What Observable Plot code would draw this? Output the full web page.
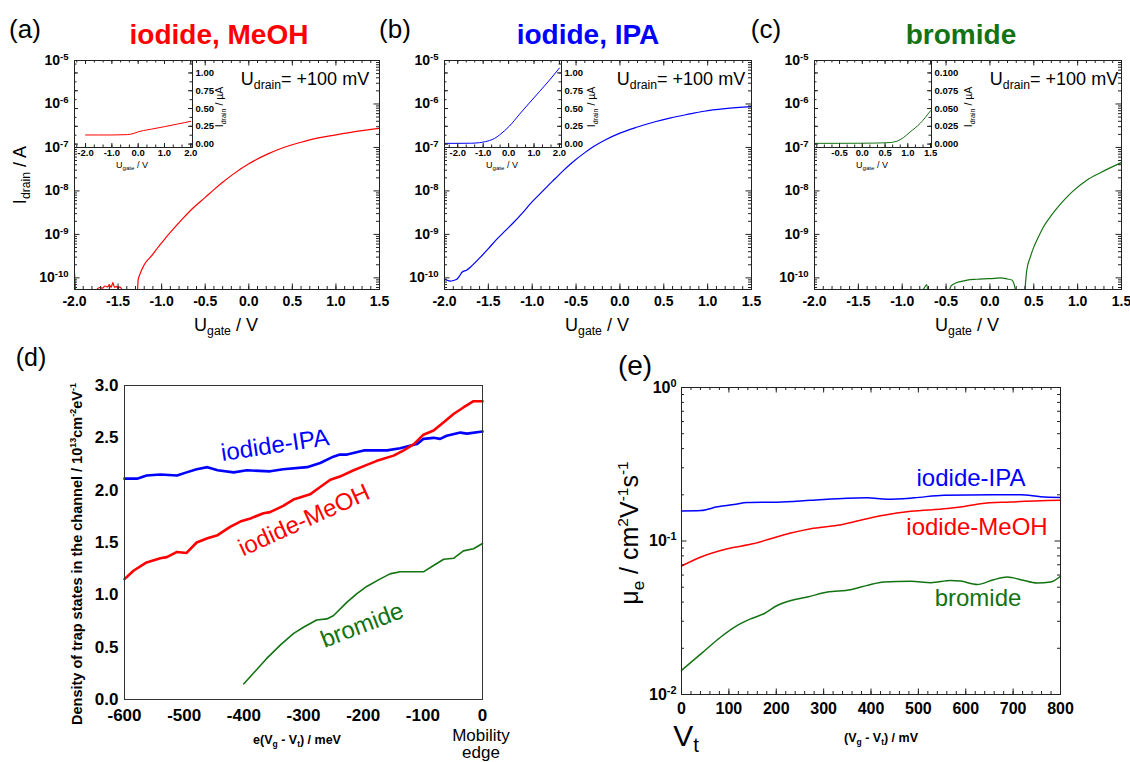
<!DOCTYPE html>
<html><head><meta charset="utf-8">
<script src="https://cdn.jsdelivr.net/npm/d3@7"></script>
<script src="https://cdn.jsdelivr.net/npm/@observablehq/plot@0.6"></script>
<style>
html,body{margin:0;padding:0;background:#fff;}
#root{position:relative;width:1130px;height:762px;overflow:hidden;background:#fff;font-family:"Liberation Sans",Arial,Helvetica,sans-serif;}
.lbl{position:absolute;white-space:nowrap;line-height:1;}
.sub{font-size:0.68em;vertical-align:-0.32em;}
.sup{font-size:0.62em;vertical-align:0.62em;}
</style></head>
<body><div id="root"></div>
<script>
// ---------------- DATA ----------------
const RED = "#ff0000", BLUE = "#0000ff", GREEN = "#137313";

// (a)-(c) main panels: [U_gate (V), I_drain (A)]; null = gap in the trace
const transferMeOH = [[-2.0,1.3e-10],[-1.985,4e-11],[-1.9,null],[-1.76,4e-11],[-1.74,5.5e-11],[-1.71,6e-11],[-1.68,5.8e-11],[-1.65,6.5e-11],[-1.62,6.2e-11],[-1.6,7e-11],[-1.58,6e-11],[-1.56,7.8e-11],[-1.54,6e-11],[-1.52,6.4e-11],[-1.5,5.8e-11],[-1.48,6.2e-11],[-1.46,5.5e-11],[-1.45,4e-11],[-1.4,null],[-1.29,4e-11],[-1.275,6e-11],[-1.27,9e-11],[-1.25,1.2e-10],[-1.2,2e-10],[-1.1,3.5e-10],[-1.05,4.8e-10],[-0.95,8.5e-10],[-0.86,1.38e-9],[-0.75,2.4e-9],[-0.63,4.2e-9],[-0.5,7.1e-9],[-0.4,1.07e-8],[-0.3,1.58e-8],[-0.17,2.5e-8],[0.0,4.2e-8],[0.22,7.1e-8],[0.4,1.0e-7],[0.6,1.32e-7],[0.8,1.66e-7],[0.97,1.9e-7],[1.2,2.28e-7],[1.5,2.75e-7]];
const transferIPA = [[-2.0,9.5e-11],[-1.97,8.8e-11],[-1.93,8.4e-11],[-1.9,8.7e-11],[-1.86,9.3e-11],[-1.83,1.1e-10],[-1.8,1.35e-10],[-1.75,1.5e-10],[-1.7,1.8e-10],[-1.59,3.0e-10],[-1.5,4.7e-10],[-1.4,7.9e-10],[-1.3,1.25e-9],[-1.21,1.9e-9],[-1.1,3.3e-9],[-1.02,5.1e-9],[-0.92,8.2e-9],[-0.83,1.26e-8],[-0.74,1.9e-8],[-0.64,3.0e-8],[-0.55,4.4e-8],[-0.4,7.6e-8],[-0.3,1.05e-7],[-0.18,1.45e-7],[0.0,2.14e-7],[0.2,2.95e-7],[0.4,3.9e-7],[0.58,4.8e-7],[0.8,5.9e-7],[0.96,6.8e-7],[1.2,7.8e-7],[1.5,8.7e-7]];
const transferBromide = [[-0.79,4e-11],[-0.75,5.8e-11],[-0.72,7e-11],[-0.705,4e-11],[-0.6,null],[-0.48,4e-11],[-0.44,6.6e-11],[-0.4,7.4e-11],[-0.37,7.9e-11],[-0.3,8.5e-11],[-0.26,8.9e-11],[-0.15,9.3e-11],[-0.07,9.5e-11],[0.05,9.7e-11],[0.12,1.0e-10],[0.2,9.4e-11],[0.25,8.9e-11],[0.28,6.6e-11],[0.3,4e-11],[0.35,null],[0.395,4e-11],[0.42,1.5e-10],[0.46,3e-10],[0.5,5.1e-10],[0.55,8.5e-10],[0.61,1.48e-9],[0.68,2.4e-9],[0.76,3.9e-9],[0.85,6.3e-9],[0.95,1.0e-8],[1.1,1.74e-8],[1.26,2.63e-8],[1.5,4.5e-8]];

// insets: [U_gate (V), I_drain (µA)]
const insetMeOH = [[-2.0,0.128],[-1.0,0.128],[-0.5,0.132],[-0.3,0.138],[-0.15,0.152],[0.0,0.172],[0.2,0.19],[0.5,0.21],[1.0,0.245],[1.5,0.282],[2.0,0.32]];
const insetIPA = [[-2.52,0.01],[-1.5,0.012],[-1.14,0.02],[-0.9,0.035],[-0.75,0.05],[-0.55,0.08],[-0.35,0.13],[-0.15,0.19],[0.04,0.255],[0.43,0.42],[0.82,0.58],[1.22,0.74],[1.61,0.9],[2.0,1.07]];
const insetBromide = [[-1.05,0.001],[0.0,0.0012],[0.5,0.0018],[0.61,0.0022],[0.76,0.004],[0.9,0.009],[1.05,0.017],[1.27,0.029],[1.5,0.047]];

// (d) density of trap states: [e(Vg-Vt) meV, 1e13 cm^-2 eV^-1]
const dosIPA = [[-600,2.11],[-579,2.11],[-563,2.14],[-540,2.15],[-512,2.14],[-496,2.17],[-479,2.2],[-461,2.22],[-444,2.19],[-417,2.17],[-395,2.19],[-356,2.18],[-334,2.2],[-294,2.22],[-272,2.26],[-250,2.32],[-239,2.34],[-227,2.34],[-199,2.38],[-160,2.38],[-138,2.4],[-110,2.44],[-99,2.49],[-82,2.5],[-71,2.49],[-60,2.52],[-37,2.55],[-26,2.54],[0,2.56]];
const dosMeOH = [[-600,1.15],[-585,1.23],[-563,1.31],[-540,1.35],[-529,1.36],[-512,1.41],[-496,1.4],[-479,1.5],[-461,1.54],[-444,1.57],[-423,1.65],[-406,1.7],[-389,1.73],[-367,1.78],[-356,1.79],[-334,1.85],[-317,1.91],[-306,1.93],[-289,1.96],[-272,2.03],[-255,2.1],[-239,2.13],[-216,2.19],[-199,2.23],[-177,2.28],[-149,2.33],[-132,2.38],[-115,2.44],[-99,2.53],[-82,2.57],[-65,2.65],[-48,2.73],[-32,2.79],[-15,2.85],[0,2.85]];
const dosBromide = [[-400,0.15],[-384,0.25],[-362,0.39],[-339,0.52],[-317,0.63],[-300,0.69],[-278,0.76],[-261,0.77],[-250,0.8],[-227,0.93],[-211,1.01],[-194,1.08],[-172,1.15],[-155,1.2],[-138,1.22],[-105,1.22],[-99,1.22],[-82,1.28],[-65,1.34],[-48,1.35],[-32,1.42],[-15,1.44],[0,1.49]];

// (e) mobility: [(Vg-Vt) mV, µe cm2/Vs]
const mobIPA = [[0,0.157],[41,0.158],[76,0.167],[111,0.173],[139,0.178],[202,0.179],[273,0.184],[350,0.19],[392,0.191],[434,0.187],[491,0.191],[554,0.199],[659,0.2],[716,0.2],[758,0.194],[800,0.192]];
const mobMeOH = [[0,0.0687],[41,0.0787],[97,0.0891],[153,0.0962],[188,0.1035],[231,0.1127],[273,0.1202],[329,0.1265],[378,0.1365],[427,0.1469],[484,0.156],[561,0.1626],[589,0.1667],[631,0.175],[694,0.1795],[800,0.184]];
const mobBromide = [[0,0.01436],[41,0.0184],[83,0.0237],[118,0.0282],[146,0.0311],[174,0.0336],[202,0.038],[231,0.041],[266,0.0432],[308,0.0465],[357,0.0482],[392,0.0514],[427,0.0541],[484,0.0546],[527,0.0535],[568,0.0553],[589,0.0548],[624,0.0521],[659,0.056],[688,0.0582],[716,0.056],[751,0.0532],[779,0.054],[800,0.0589]];

// tick labels
const gateTicks = [-2.0,-1.5,-1.0,-0.5,0.0,0.5,1.0,1.5];
const currentTicks = [1e-10,1e-9,1e-8,1e-7,1e-6,1e-5];
const insetGateTicksIodide = [-2,-1,0,1,2];
const insetGateTicksBromide = [-0.5,0,0.5,1,1.5];
const insetCurrentTicksIodide = [0,0.25,0.5,0.75,1.0];
const insetCurrentTicksBromide = [0,0.025,0.05,0.075,0.1];
const energyTicks = [-600,-500,-400,-300,-200,-100,0];
const dosTicks = [0,0.5,1.0,1.5,2.0,2.5,3.0];
const voltTicks = [0,100,200,300,400,500,600,700,800];
const mobTicks = [0.01,0.1,1];

// ---------------- HELPERS ----------------
const FONT = '"Liberation Sans", Arial, Helvetica, sans-serif';
const INK = "#222";
const root = document.getElementById("root");
const NS = "http://www.w3.org/2000/svg";

function supify(svg){
  svg.querySelectorAll("text").forEach(t => {
    const s = t.textContent;
    const m = s.match(/^(.*)\^(.+)$/);
    if (!m) return;
    t.textContent = "";
    const a = document.createElementNS(NS,"tspan"); a.textContent = m[1];
    const b = document.createElementNS(NS,"tspan"); b.textContent = m[2];
    b.setAttribute("font-size","68%"); b.setAttribute("dy","-0.55em");
    t.append(a, b);
  });
}
function range(a, b, step){ const out=[]; const n=Math.round((b-a)/step); for(let i=0;i<=n;i++) out.push(+(a+i*step).toFixed(6)); return out; }
function logMinor(lo, hi){ const out=[]; for(let e=Math.floor(Math.log10(lo)); e<=Math.ceil(Math.log10(hi)); e++) for(let k=2;k<=9;k++){ const v=k*Math.pow(10,e); if(v>lo && v<hi) out.push(v);} return out; }
const inside = (vals, dom) => vals.filter(v => v >= Math.min(...dom)-1e-12 && v <= Math.max(...dom)+1e-12);

function xTicks(vals, len, H){ return [
  Plot.tickX(vals,{x:d=>d, insetTop:H-len, stroke:INK}),
  Plot.tickX(vals,{x:d=>d, insetBottom:H-len, stroke:INK})]; }
function yTicks(vals, len, W){ return [
  Plot.tickY(vals,{y:d=>d, insetRight:W-len, stroke:INK}),
  Plot.tickY(vals,{y:d=>d, insetLeft:W-len, stroke:INK})]; }

function framed({x0,x1,y0,y1,m,x,y,marks,style}){
  const [mt,mr,mb,ml] = m;
  const W = x1-x0, H = y1-y0;
  const svg = Plot.plot({
    width: W+ml+mr, height: H+mt+mb,
    marginTop: mt, marginRight: mr, marginBottom: mb, marginLeft: ml,
    x, y, marks: marks(W,H),
    style: Object.assign({fontFamily: FONT, background: "transparent", overflow: "visible", color: "#000"}, style)
  });
  svg.style.position = "absolute";
  svg.style.left = (x0-ml)+"px";
  svg.style.top = (y0-mt)+"px";
  svg.style.maxWidth = "none";
  supify(svg);
  root.append(svg);
}
function txt(html, cx, cy, size, opt={}){
  const d = document.createElement("div");
  d.className = "lbl"; d.innerHTML = html;
  d.style.left = cx+"px"; d.style.top = cy+"px"; d.style.fontSize = size+"px";
  d.style.color = opt.color || "#000";
  d.style.fontWeight = opt.weight || "normal";
  if (opt.lh) d.style.lineHeight = opt.lh;
  if (opt.align) d.style.textAlign = opt.align;
  d.style.transform = `translate(-50%,-50%) rotate(${opt.rot||0}deg)`;
  root.append(d);
}

// ---------------- (a)-(c) MAIN ----------------
const mainY = [5.4e-11, 1e-5];
function transferMain(x0, x1, series, color){
  framed({x0, x1, y0:60, y1:289, m:[2,4,30,74],
    x:{domain:[-2,1.5]}, y:{type:"log", domain:mainY},
    style:{fontSize:"14px", fontWeight:"bold"},
    marks:(W,H)=>[
      Plot.line(series,{x:d=>d[0], y:d=>d[1], stroke:color, strokeWidth:1.2, clip:true, curve:"monotone-x"}),
      ...xTicks(range(-2,1.5,0.1), 3, H), ...xTicks(gateTicks, 5.5, H),
      ...yTicks(logMinor(...mainY), 3, W), ...yTicks(currentTicks, 5.5, W),
      Plot.frame({stroke:INK}),
      Plot.axisX({ticks:gateTicks, tickSize:0, tickPadding:7, tickFormat:d=>d.toFixed(1), label:null}),
      Plot.axisY({ticks:currentTicks, tickSize:0, tickPadding:6, tickFormat:d=>"10^"+Math.round(Math.log10(d)), label:null})
    ]});
}
transferMain(74, 379, transferMeOH, RED);
transferMain(444, 751, transferIPA, BLUE);
transferMain(814, 1121, transferBromide, GREEN);

// ---------------- INSETS ----------------
function transferInset(x0, x1, series, color, xdom, xt, ydom, yt, ydig){
  const xstep = xt[1]-xt[0], ystep = yt[1]-yt[0];
  framed({x0, x1, y0:60, y1:147, m:[0,34,14,0],
    x:{domain:xdom}, y:{domain:ydom},
    style:{fontSize:"9.5px", fontWeight:"bold"},
    marks:(W,H)=>[
      Plot.frame({fill:"white", stroke:"white"}),
      Plot.line(series,{x:d=>d[0], y:d=>d[1], stroke:color, strokeWidth:1, clip:true, curve:"monotone-x"}),
      ...xTicks(inside(range(xt[0]-xstep, xt[xt.length-1]+xstep, xstep/3), xdom), 2.5, H),
      ...xTicks(inside(xt, xdom), 4, H),
      ...yTicks(inside(range(yt[0]-ystep, yt[yt.length-1]+ystep, ystep/2), ydom), 2.5, W),
      ...yTicks(inside(yt, ydom), 4, W),
      Plot.frame({stroke:INK}),
      Plot.axisX({ticks:xt, tickSize:0, tickPadding:2, tickFormat:d=>d.toFixed(1), label:null}),
      Plot.axisY({ticks:yt, anchor:"right", tickSize:0, tickPadding:3, tickFormat:d=>d.toFixed(ydig), label:null})
    ]});
}
transferInset(74, 192, insetMeOH, RED, [-2.42,2.065], insetGateTicksIodide, [-0.048,1.175], insetCurrentTicksIodide, 2);
transferInset(444, 561, insetIPA, BLUE, [-2.52,2.08], insetGateTicksIodide, [-0.048,1.175], insetCurrentTicksIodide, 2);
transferInset(814, 931, insetBromide, GREEN, [-1.05,1.52], insetGateTicksBromide, [-0.0048,0.1175], insetCurrentTicksBromide, 3);

// ---------------- (d) ----------------
framed({x0:124, x1:482, y0:385, y1:699, m:[2,8,32,60],
  x:{domain:[-600,0]}, y:{domain:[0,3]},
  style:{fontSize:"17px", fontWeight:"bold"},
  marks:(W,H)=>[
    Plot.line(dosBromide,{x:d=>d[0], y:d=>d[1], stroke:GREEN, strokeWidth:1.6}),
    Plot.line(dosIPA,{x:d=>d[0], y:d=>d[1], stroke:BLUE, strokeWidth:2.6}),
    Plot.line(dosMeOH,{x:d=>d[0], y:d=>d[1], stroke:RED, strokeWidth:2.6}),
    Plot.frame({stroke:"#333"}),
    Plot.axisX({ticks:energyTicks, tickSize:0, tickPadding:9, tickFormat:d=>String(d), label:null}),
    Plot.axisY({ticks:dosTicks, tickSize:0, tickPadding:6, tickFormat:d=>d.toFixed(1), label:null})
  ]});

// ---------------- (e) ----------------
framed({x0:681, x1:1060, y0:387, y1:694, m:[2,10,32,60],
  x:{domain:[0,800]}, y:{type:"log", domain:[0.01,1]},
  style:{fontSize:"16px", fontWeight:"bold"},
  marks:(W,H)=>[
    Plot.line(mobBromide,{x:d=>d[0], y:d=>d[1], stroke:GREEN, strokeWidth:1.5, curve:"monotone-x"}),
    Plot.line(mobMeOH,{x:d=>d[0], y:d=>d[1], stroke:RED, strokeWidth:1.5, curve:"monotone-x"}),
    Plot.line(mobIPA,{x:d=>d[0], y:d=>d[1], stroke:BLUE, strokeWidth:1.5, curve:"monotone-x"}),
    ...xTicks(range(0,800,20), 3, H), ...xTicks(voltTicks, 5.5, H),
    ...yTicks(logMinor(0.01,1), 3, W), ...yTicks(mobTicks, 5.5, W),
    Plot.frame({stroke:INK}),
    Plot.axisX({ticks:voltTicks, tickSize:0, tickPadding:8, tickFormat:d=>String(d), label:null}),
    Plot.axisY({ticks:mobTicks, tickSize:0, tickPadding:5, tickFormat:d=>"10^"+Math.round(Math.log10(d)), label:null})
  ]});

// ---------------- TEXT ----------------
txt("(a)", 25, 29, 26); txt("(b)", 395, 29, 26); txt("(c)", 766, 29, 26);
txt("(d)", 31, 357, 25); txt("(e)", 635, 366, 28);
txt("iodide, MeOH", 219, 35, 28, {color:RED, weight:"bold"});
txt("iodide, IPA", 588, 35, 28, {color:BLUE, weight:"bold"});
txt("bromide", 961, 35, 28, {color:GREEN, weight:"bold"});
const udrain = 'U<span class="sub">drain</span>= +100 mV';
txt(udrain, 305, 81, 18); txt(udrain, 681, 81, 18); txt(udrain, 1054, 81, 18);
txt('I<span class="sub">drain</span> / A', 22, 175, 18, {rot:-90});
const ugate = 'U<span class="sub">gate</span> / V';
txt(ugate, 226, 327, 18); txt(ugate, 597, 327, 18); txt(ugate, 967, 327, 18);
const ugateSmall = 'U<span class="sub">gate</span> / V';
txt(ugateSmall, 132, 166, 9); txt(ugateSmall, 502, 166, 9); txt(ugateSmall, 872, 166, 9);
const idrainSmall = 'I<span class="sub">drain</span> / µA';
txt(idrainSmall, 221, 107, 10.5, {rot:-90}); txt(idrainSmall, 593, 107, 10.5, {rot:-90}); txt(idrainSmall, 970, 107, 10.5, {rot:-90});
// (d)
txt('Density of trap states in the channel / 10<span class="sup">13</span>cm<span class="sup">-2</span>eV<span class="sup">-1</span>', 77, 554, 14.5, {rot:-90, weight:"bold"});
txt('e(V<span class="sub">g</span> - V<span class="sub">t</span>) / meV', 297, 741, 12.5, {weight:"bold"});
txt('Mobility<br>edge', 481, 744, 17, {lh:"17px", align:"center"});
txt('iodide-IPA', 275, 445, 24, {color:BLUE, rot:-8.5});
txt('iodide-MeOH', 304, 520, 24, {color:RED, rot:-24.5});
txt('bromide', 362, 625, 24, {color:GREEN, rot:-21});
// (e)
txt('μ<span class="sub">e</span> / cm<span class="sup">2</span>V<span class="sup">-1</span>s<span class="sup">-1</span>', 631, 533, 25, {rot:-90});
txt('V<span class="sub">t</span>', 686, 738, 30);
txt('(V<span class="sub">g</span> - V<span class="sub">t</span>) / mV', 881, 739, 12.5, {weight:"bold"});
txt('iodide-IPA', 971, 478, 24, {color:BLUE});
txt('iodide-MeOH', 977, 527, 24, {color:RED});
txt('bromide', 978, 598, 24, {color:GREEN});
</script></body></html>
